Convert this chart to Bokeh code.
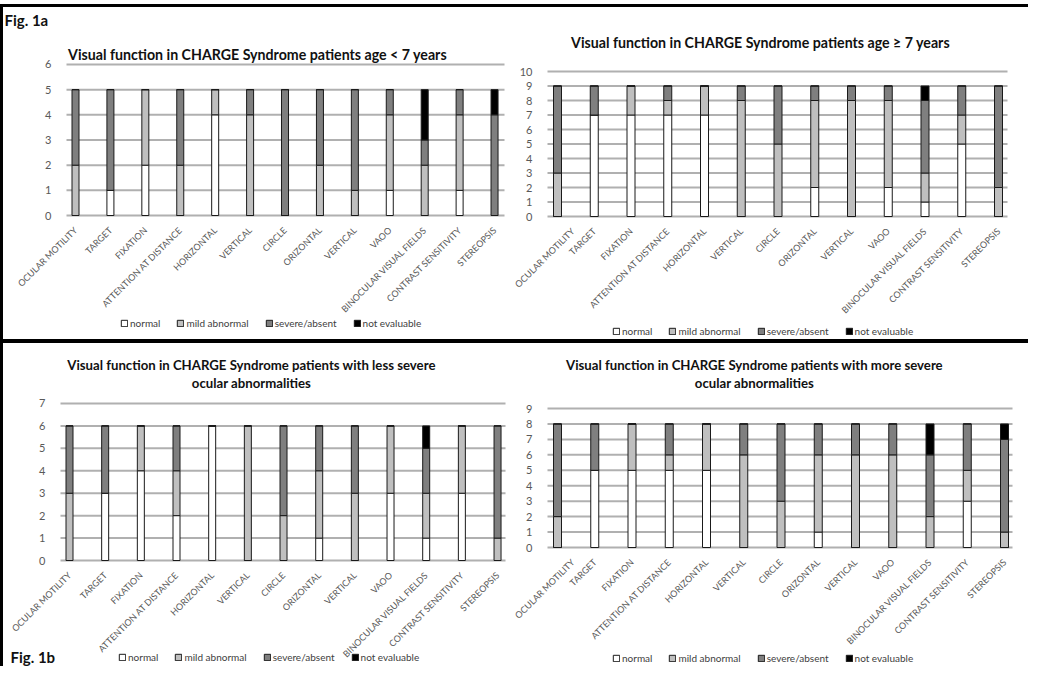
from bokeh.plotting import figure
from bokeh.models import (ColumnDataSource, FixedTicker, Legend, LegendItem,
                          Label, Range1d, Div, Spacer)
from bokeh.layouts import column, row
from bokeh.embed import file_html
from bokeh.resources import INLINE

categories = ["OCULAR MOTILITY", "TARGET", "FIXATION", "ATTENTION AT DISTANCE",
              "HORIZONTAL", "VERTICAL", "CIRCLE", "ORIZONTAL", "VERTICAL", "VAOO",
              "BINOCULAR VISUAL FIELDS", "CONTRAST SENSITIVITY", "STEREOPSIS"]
series_names = ["normal", "mild abnormal", "severe/absent", "not evaluable"]

young_normal = [0, 1, 2, 0, 4, 0, 0, 0, 0, 1, 0, 1, 0]
young_mild = [2, 0, 3, 2, 1, 4, 0, 2, 1, 3, 2, 3, 0]
young_severe = [3, 4, 0, 3, 0, 1, 5, 3, 4, 1, 1, 1, 4]
young_ne = [0, 0, 0, 0, 0, 0, 0, 0, 0, 0, 2, 0, 1]

older_normal = [0, 7, 7, 7, 7, 0, 0, 2, 0, 2, 1, 5, 0]
older_mild = [3, 0, 2, 1, 2, 8, 5, 6, 8, 6, 2, 2, 2]
older_severe = [6, 2, 0, 1, 0, 1, 4, 1, 1, 1, 5, 2, 7]
older_ne = [0, 0, 0, 0, 0, 0, 0, 0, 0, 0, 1, 0, 0]

less_normal = [0, 3, 4, 2, 6, 0, 0, 1, 0, 3, 1, 3, 0]
less_mild = [3, 0, 2, 2, 0, 6, 2, 3, 3, 3, 2, 3, 1]
less_severe = [3, 3, 0, 2, 0, 0, 4, 2, 3, 0, 2, 0, 5]
less_ne = [0, 0, 0, 0, 0, 0, 0, 0, 0, 0, 1, 0, 0]

more_normal = [0, 5, 5, 5, 5, 0, 0, 1, 0, 0, 0, 3, 0]
more_mild = [2, 0, 3, 1, 3, 6, 3, 5, 6, 6, 2, 2, 1]
more_severe = [6, 3, 0, 2, 0, 2, 5, 2, 2, 2, 4, 3, 6]
more_ne = [0, 0, 0, 0, 0, 0, 0, 0, 0, 0, 2, 0, 1]

y_max = {"young": 6, "older": 10, "less": 7, "more": 9}

titles = {
    "young": ["Visual function in CHARGE Syndrome patients age < 7 years"],
    "older": ["Visual function in CHARGE Syndrome patients age \u2265 7 years"],
    "less": ["Visual function in CHARGE Syndrome patients with less severe",
             "ocular abnormalities"],
    "more": ["Visual function in CHARGE Syndrome patients with more severe",
             "ocular abnormalities"],
}
fig_labels = {"young": "Fig. 1a", "less": "Fig. 1b"}

COLORS = ["#ffffff", "#bfbfbf", "#7f7f7f", "#000000"]
FONT = "Lato"


def make_panel(key, normal, mild, severe, ne, box, x0px, dxpx, y0px, dypx,
               grid_l, grid_r, bar_px, title_xy, title_size, legend_xy,
               figlab_xy=None):
    """box = (left, top, right, bottom) of the figure in page pixels.
    The plotting frame fills the whole figure; axes are pinned in data space."""
    L, T, R, B = box
    W, H = R - L, B - T
    ymax = y_max[key]
    xs, xe = (L - x0px) / dxpx, (R - x0px) / dxpx
    ys, ye = (y0px - B) / dypx, (y0px - T) / dypx
    p = figure(width=W, height=H, output_backend="svg", toolbar_location=None,
               x_range=Range1d(xs, xe), y_range=Range1d(ys, ye),
               min_border_left=0, min_border_right=0,
               min_border_top=0, min_border_bottom=0, margin=0)
    p.outline_line_color = None
    p.background_fill_color = "white"
    p.border_fill_color = "white"
    p.xgrid.visible = False
    p.ygrid.visible = False

    gx0 = (grid_l - x0px) / dxpx
    gx1 = (grid_r - x0px) / dxpx
    ticks = list(range(ymax + 1))
    gsrc = ColumnDataSource(dict(x0=[gx0] * len(ticks), x1=[gx1] * len(ticks),
                                 y=ticks))
    p.segment(x0="x0", y0="y", x1="x1", y1="y", source=gsrc,
              line_color="#b0b0b0", line_width=2, level="underlay")

    src = ColumnDataSource(dict(x=list(range(len(categories))), normal=normal,
                                mild=mild, severe=severe, ne=ne))
    rs = p.vbar_stack(["normal", "mild", "severe", "ne"], x="x",
                      width=bar_px / dxpx, fill_color=COLORS,
                      line_color="#1a1a1a", line_width=1, source=src)

    p.yaxis.ticker = FixedTicker(ticks=ticks)
    p.yaxis.fixed_location = gx0
    p.xaxis.ticker = FixedTicker(ticks=list(range(len(categories))))
    p.xaxis.fixed_location = 0
    p.xaxis.major_label_overrides = {i: c for i, c in enumerate(categories)}
    p.xaxis.major_label_orientation = 0.785398
    for ax in (p.xaxis[0], p.yaxis[0]):
        ax.axis_line_color = None
        ax.major_tick_line_color = None
        ax.minor_tick_line_color = None
        ax.major_label_text_color = "#595959"
        ax.major_label_text_font = FONT
    p.xaxis.major_label_text_font_size = "9px"
    p.xaxis.major_label_standoff = 7
    p.yaxis.major_label_text_font_size = "11px"
    p.yaxis.major_label_standoff = 9

    tx, ty = title_xy
    for i, line in enumerate(titles[key]):
        p.add_layout(Label(x=tx - L, y=B - (ty + 18 * i), x_units="screen",
                           y_units="screen", text=line, text_align="center",
                           text_baseline="middle", text_font=FONT,
                           text_font_style="bold", text_font_size=title_size,
                           text_color="#111111"))
    if figlab_xy is not None:
        fx, fy = figlab_xy
        p.add_layout(Label(x=fx - L, y=B - fy, x_units="screen", y_units="screen",
                           text=fig_labels[key], text_align="left",
                           text_baseline="middle", text_font=FONT,
                           text_font_style="bold", text_font_size="15px",
                           text_color="#111111"))

    lx, ly = legend_xy
    items = [LegendItem(label=n, renderers=[r]) for n, r in zip(series_names, rs)]
    leg = Legend(items=items, orientation="horizontal",
                 location=(lx - L, B - (ly + 6)),
                 glyph_width=8, glyph_height=8, label_standoff=2, spacing=16,
                 padding=0, margin=0, border_line_alpha=0,
                 background_fill_alpha=0, label_text_font=FONT,
                 label_text_font_size="10px", label_text_color="#404040",
                 label_height=10)
    p.add_layout(leg)
    return p


p1 = make_panel("young", young_normal, young_mild, young_severe, young_ne,
                (11, 15, 520, 347), 83, 34.92, 223, 25.17, 74, 512, 7,
                (265, 62), "14.2px", (128, 331), (12, 27))
p2 = make_panel("older", older_normal, older_mild, older_severe, older_ne,
                (520, 15, 1036, 347), 565, 36.75, 224, 14.5, 555, 1015, 8,
                (768, 50), "14.2px", (620, 339))
p3 = make_panel("less", less_normal, less_mild, less_severe, less_ne,
                (11, 351, 520, 674), 77, 35.67, 568, 22.43, 68, 513, 7,
                (259, 372), "13.2px", (126, 665), (18, 664))
p4 = make_panel("more", more_normal, more_mild, more_severe, more_ne,
                (520, 351, 1036, 674), 565, 37.25, 555, 15.44, 555, 1020, 8,
                (762, 372), "13.2px", (620, 666))

top_line = Div(text="", width=1028, height=3, margin=0,
               styles={"background-color": "black"})
left_line = Div(text="", width=3, height=659, margin=0,
                styles={"background-color": "black"})
sep_line = Div(text="", width=1025, height=4, margin=0,
               styles={"background-color": "black"})

layout = column(
    Spacer(width=1028, height=4, margin=0),
    top_line,
    row(left_line, column(row(p1, p2, margin=0), sep_line, row(p3, p4, margin=0),
                          margin=0), margin=0),
    margin=0,
)

open("out.html", "w").write(file_html(layout, INLINE))
